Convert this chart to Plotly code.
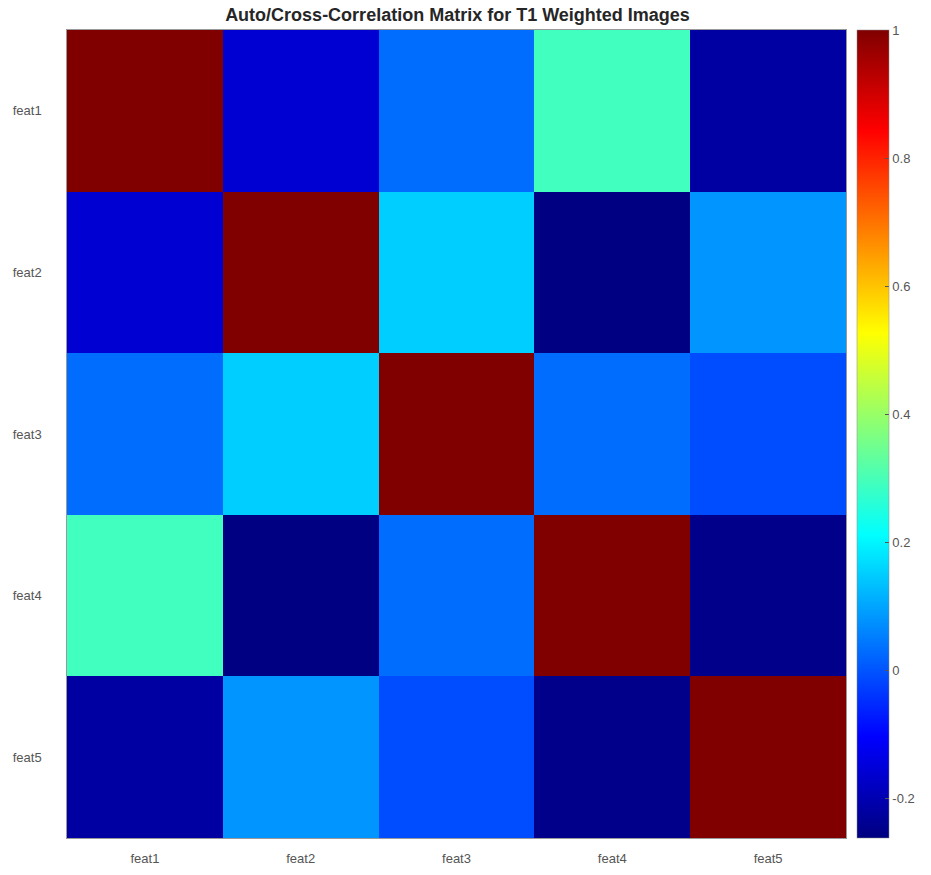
import plotly.graph_objects as go

# Feature labels and the symmetric correlation matrix
features = ["feat1", "feat2", "feat3", "feat4", "feat5"]
corr = [
    [1.00, -0.16, 0.03, 0.29, -0.22],
    [-0.16, 1.00, 0.15, -0.26, 0.08],
    [0.03, 0.15, 1.00, 0.03, -0.01],
    [0.29, -0.26, 0.03, 1.00, -0.25],
    [-0.22, 0.08, -0.01, -0.25, 1.00],
]
cbar_ticks = [-0.2, 0, 0.2, 0.4, 0.6, 0.8, 1]
zmin, zmax = -0.2625, 1.0

# MATLAB-style jet colour map
jet = [
    [0.0, "rgb(0,0,128)"],
    [0.125, "rgb(0,0,255)"],
    [0.375, "rgb(0,255,255)"],
    [0.625, "rgb(255,255,0)"],
    [0.875, "rgb(255,0,0)"],
    [1.0, "rgb(128,0,0)"],
]

label_font = dict(family="Liberation Sans, Arial", size=13, color="#555")

fig = go.Figure(
    go.Heatmap(
        z=corr,
        x=features,
        y=features,
        zmin=zmin,
        zmax=zmax,
        colorscale=jet,
        colorbar=dict(
            x=1.014,
            xanchor="left",
            y=0.5,
            yanchor="middle",
            len=1.0,
            lenmode="fraction",
            thickness=32,
            thicknessmode="pixels",
            outlinewidth=0.5,
            outlinecolor="#888",
            tickvals=cbar_ticks,
            ticktext=[str(t) for t in cbar_ticks],
            ticks="inside",
            ticklen=4,
            tickcolor="#555",
            tickfont=label_font,
            xpad=0,
            ypad=0,
        ),
    )
)

fig.update_layout(
    width=931,
    height=875,
    margin=dict(l=67, r=83, t=30, b=37),
    paper_bgcolor="white",
    plot_bgcolor="white",
    title=dict(
        text="<b>Auto/Cross-Correlation Matrix for T1 Weighted Images</b>",
        x=(67 + 848) / 2 / 931,
        xanchor="center",
        y=1 - 15 / 875,
        yanchor="middle",
        font=dict(family="Liberation Sans, Arial", size=18, color="#262626"),
    ),
)
fig.update_xaxes(
    automargin=False,
    showgrid=False,
    zeroline=False,
    ticks="",
    showline=True,
    linecolor="#999",
    linewidth=0.5,
    mirror=True,
    ticklabelstandoff=9,
    tickfont=label_font,
)
fig.update_yaxes(
    automargin=False,
    autorange="reversed",
    showgrid=False,
    zeroline=False,
    ticks="",
    showline=True,
    linecolor="#999",
    linewidth=0.5,
    mirror=True,
    ticklabelstandoff=22,
    tickfont=label_font,
)

fig.write_html("out.html")
